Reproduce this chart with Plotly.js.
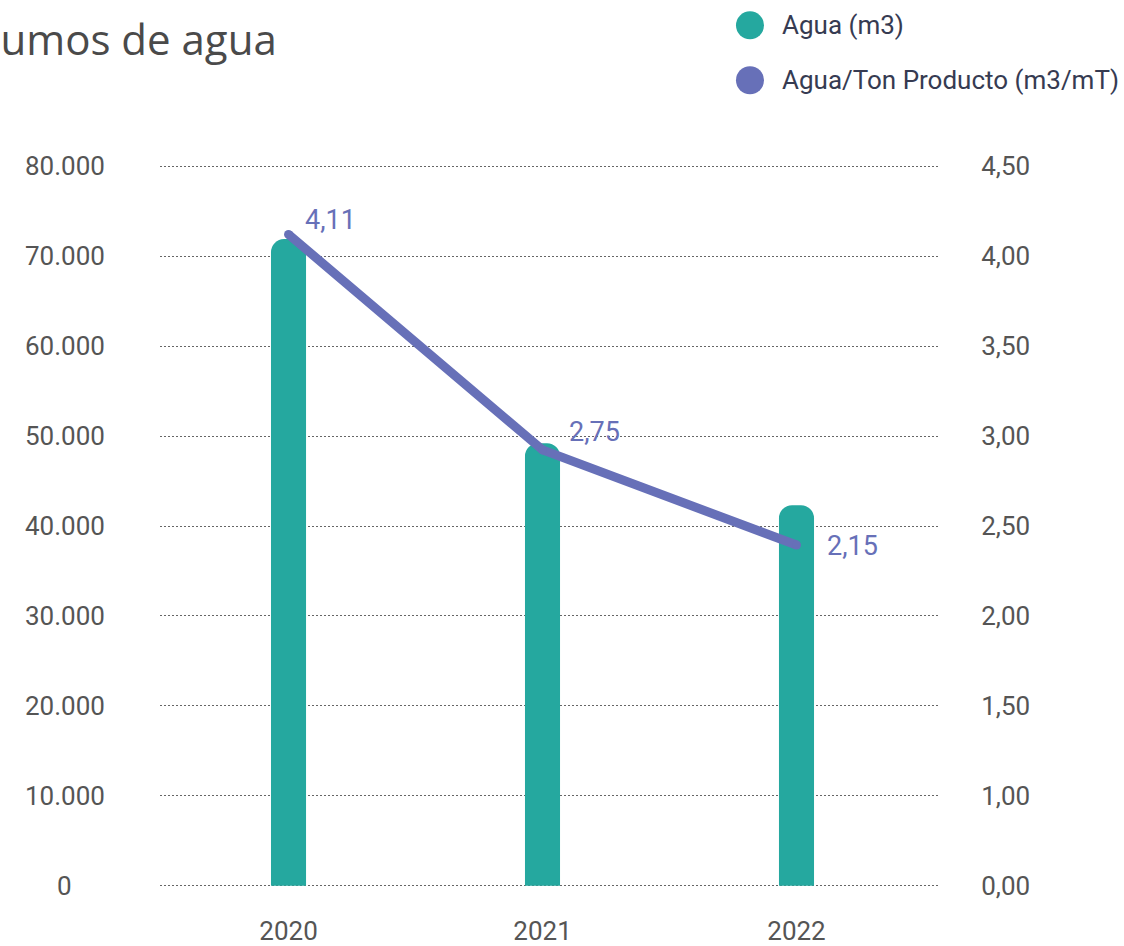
<!DOCTYPE html>
<html>
<head>
<meta charset="utf-8">
<script src="https://cdn.plot.ly/plotly-3.0.1.min.js"></script>
<style>html,body{margin:0;padding:0;background:#fff;}#chart{width:1124px;height:946px;}</style>
</head>
<body>
<div id="chart"></div>
<script>
// ---- data ----
const years = ["2020", "2021", "2022"];
const aguaM3 = [71900, 49200, 42300];
const aguaPorTon = [4.11, 2.75, 2.15];
const aguaPorTonLabels = ["4,11", "2,75", "2,15"];
const leftTickValues = [0, 10000, 20000, 30000, 40000, 50000, 60000, 70000, 80000];
const leftTickLabels = ["0", "10.000", "20.000", "30.000", "40.000", "50.000", "60.000", "70.000", "80.000"];
const rightTickLabels = ["0,00", "1,00", "1,50", "2,00", "2,50", "3,00", "3,50", "4,00", "4,50"];
const seriesNames = ["Agua (m3)", "Agua/Ton Producto (m3/mT)"];
const titleText = "Consumos de agua";

// ---- style ----
const teal = "#25a89f";
const purple = "#6770b8";
const tickColor = "#555555";
const leftPad = 250;            // small range padding so edge gridlines are drawn
const rightMax = 4.54;
const labelShifts = [[14, 14], [24, 18], [28, -1]];

const barTrace = {
  type: "bar", x: years, y: aguaM3, name: seriesNames[0],
  marker: { color: teal, cornerradius: 13 }, width: 0.138,
  showlegend: false, hoverinfo: "x+y"
};
const lineTrace = {
  type: "scatter", mode: "lines+markers", x: years, y: aguaPorTon, yaxis: "y2",
  name: seriesNames[1], line: { color: purple, width: 9 },
  marker: { color: purple, size: 9 }, showlegend: false, cliponaxis: false
};

const annotations = [];
leftTickValues.forEach((v, i) => {
  annotations.push({
    xref: "paper", yref: "y", x: -0.1218, y: v, text: leftTickLabels[i],
    showarrow: false, xanchor: "center", yanchor: "middle",
    font: { family: "Roboto, sans-serif", size: 26, color: tickColor }
  });
});
years.forEach((yr, i) => {
  annotations.push({
    xref: "x", yref: "y2", x: i, y: aguaPorTon[i], text: aguaPorTonLabels[i],
    showarrow: false, xanchor: "left", yanchor: "middle",
    xshift: labelShifts[i][0], yshift: labelShifts[i][1],
    font: { family: "Roboto, sans-serif", size: 27, color: purple }
  });
});
// title (clipped at the left edge, as in the reference)
annotations.push({
  xref: "paper", yref: "paper", x: 0.152, y: 1.1737, text: titleText,
  showarrow: false, xanchor: "right", yanchor: "middle",
  font: { family: "'Open Sans', sans-serif", size: 42, color: "#4a4a4a" }
});
// legend
const legendColors = [teal, purple];
const legendY = [1.1916, 1.1157];
const shapes = [];
seriesNames.forEach((n, i) => {
  annotations.push({
    xref: "paper", yref: "paper", x: 0.7949, y: legendY[i], text: n,
    showarrow: false, xanchor: "left", yanchor: "middle",
    font: { family: "Roboto, sans-serif", size: 26, color: "#363b52" }
  });
  shapes.push({
    type: "circle", xref: "paper", yref: "paper", xsizemode: "pixel", ysizemode: "pixel",
    xanchor: 0.7564, yanchor: legendY[i], x0: -14, x1: 14, y0: -14, y1: 14,
    fillcolor: legendColors[i], line: { width: 0 }
  });
});

const layout = {
  width: 1124, height: 946,
  margin: { l: 160, r: 184, t: 163.75, b: 58.25, pad: 0 },
  paper_bgcolor: "#ffffff", plot_bgcolor: "#ffffff",
  showlegend: false,
  xaxis: {
    type: "category", range: [-0.506, 2.565], showgrid: false, zeroline: false, showline: false,
    ticks: "outside", ticklen: 20, tickcolor: "rgba(0,0,0,0)",
    tickfont: { family: "Roboto, sans-serif", size: 26, color: tickColor }, fixedrange: true
  },
  yaxis: {
    range: [-leftPad, 80000 + leftPad], tickvals: leftTickValues, showticklabels: false,
    showgrid: true, gridcolor: "#666666", gridwidth: 1, griddash: "1.5px,2.5px",
    zeroline: false, showline: false, fixedrange: true
  },
  yaxis2: {
    overlaying: "y", side: "right",
    range: [-leftPad * rightMax / 80000, rightMax + leftPad * rightMax / 80000],
    tickvals: rightTickLabels.map((_, i) => i * rightMax / (rightTickLabels.length - 1)),
    ticktext: rightTickLabels, showgrid: false, zeroline: false, showline: false,
    ticks: "outside", ticklen: 35, tickcolor: "rgba(0,0,0,0)",
    tickfont: { family: "Roboto, sans-serif", size: 26, color: tickColor }, fixedrange: true
  },
  annotations: annotations,
  shapes: shapes
};

Plotly.newPlot("chart", [barTrace, lineTrace], layout, { displayModeBar: false, staticPlot: true });
</script>
</body>
</html>
